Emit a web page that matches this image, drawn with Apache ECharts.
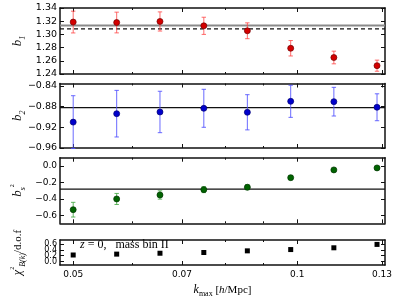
<!DOCTYPE html>
<html>
<head>
<meta charset="utf-8">
<script src="https://cdn.jsdelivr.net/npm/echarts@6/dist/echarts.min.js"></script>
<style>html,body{margin:0;padding:0;background:#fff}#c{width:399px;height:299px}</style>
</head>
<body>
<div id="c"></div>
<script>
// ---- data ----
const kValues = [0.05, 0.0572, 0.0654, 0.0749, 0.0857, 0.098, 0.112, 0.128];
const b1 = [1.3187, 1.318, 1.3196, 1.313, 1.3055, 1.279, 1.265, 1.2526];
const b1Err = [0.0165, 0.0157, 0.0145, 0.013, 0.012, 0.0117, 0.0096, 0.0084];
const b1RefSolid = 1.3135;
const b1RefDashed = 1.3085;
const b2 = [-0.910, -0.8937, -0.8904, -0.8833, -0.891, -0.8698, -0.8705, -0.8813];
const b2Err = [0.051, 0.045, 0.040, 0.0367, 0.034, 0.031, 0.0277, 0.026];
const b2Ref = -0.882;
const bs2 = [-0.53, -0.40, -0.352, -0.287, -0.258, -0.142, -0.048, -0.024];
const bs2Err = [0.089, 0.067, 0.05, 0.036, 0.03, 0.024, 0.018, 0.018];
const bs2Ref = -0.282;
const chi2 = [0.225, 0.255, 0.285, 0.31, 0.366, 0.41, 0.47, 0.585];
const xTickLabels = [0.05, 0.07, 0.1, 0.13];
const xMinorTicks = [0.06, 0.08, 0.09];
const b1Ticks = [1.24, 1.26, 1.28, 1.30, 1.32, 1.34];
const b2Ticks = [-0.96, -0.92, -0.88, -0.84];
const bs2Ticks = [-0.6, -0.4, -0.2, 0.0];
const chi2Ticks = [0.0, 0.2, 0.4, 0.6];
const chi2LabelsA = [0.0, 0.4];
const chi2LabelsB = [0.2, 0.6];

// ---- layout / style ----
const X_MIN = 0.048, X_MAX = 0.1312;
const FRAME = '#111';
const FW = 1.5;
const serif = 'Liberation Serif';
const sans = 'DejaVu Sans';

const panels = [
  { top: 8, height: 66, ymin: 1.24, ymax: 1.34, ticks: b1Ticks, labelSets: [b1Ticks], dec: 2, fs: 9.5,
    vals: b1, errs: b1Err, color: '#d40000', border: '#700000', errColor: 'rgba(255,70,70,0.8)',
    name: '{b|b}{s|1}', refs: [
      { value: b1RefSolid, color: '#8a8a8a', width: 2, type: 'solid' },
      { value: b1RefDashed, color: '#111', width: 1.2, type: [4, 3] }
    ] },
  { top: 83.5, height: 64.5, ymin: -0.96, ymax: -0.8354, ticks: b2Ticks, labelSets: [b2Ticks], dec: 2, fs: 9.5,
    vals: b2, errs: b2Err, color: '#0000cc', border: '#000070', errColor: 'rgba(80,80,255,0.85)',
    name: '{b|b}{s|2}', refs: [
      { value: b2Ref, color: '#111', width: 1.2, type: 'solid' }
    ] },
  { top: 157.7, height: 65.6, ymin: -0.695, ymax: 0.1, ticks: bs2Ticks, labelSets: [bs2Ticks], dec: 1, fs: 9,
    vals: bs2, errs: bs2Err, color: '#006400', border: '#003300', errColor: 'rgba(70,170,70,0.85)',
    name: '{b|b}{s|s}{p|2}', refs: [
      { value: bs2Ref, color: '#111', width: 1.2, type: 'solid' }
    ] },
  { top: 240, height: 28.3, ymin: -0.115, ymax: 0.735, ticks: chi2Ticks, labelSets: [chi2LabelsA, chi2LabelsB], dec: 1, fs: 8,
    vals: chi2, errs: null, color: '#000', border: '#000', errColor: null,
    name: '{c|χ}{p|2}{s|B(k)}{r|/d.o.f}', refs: [] }
];

const nameRich = {
  b: { fontFamily: serif, fontStyle: 'italic', fontSize: 13, lineHeight: 18, color: '#000' },
  c: { fontFamily: serif, fontStyle: 'italic', fontSize: 12, lineHeight: 18, color: '#000' },
  r: { fontFamily: serif, fontSize: 11, lineHeight: 18, color: '#000' },
  s: { fontFamily: serif, fontStyle: 'italic', fontSize: 8, verticalAlign: 'bottom', color: '#000' },
  p: { fontFamily: serif, fontSize: 6, verticalAlign: 'top', color: '#000' }
};

const lg = v => Math.log10(v);

function fmtY(dec) {
  return v => Number(v).toFixed(dec).replace('-', '\u2212');
}

function errRender(color) {
  return function (params, api) {
    const x = api.value(0), y = api.value(1), e = api.value(2);
    const t = api.coord([x, y + e]);
    const b = api.coord([x, y - e]);
    const cw = 2.2;
    const st = { stroke: color, lineWidth: 1 };
    return {
      type: 'group', children: [
        { type: 'line', shape: { x1: t[0], y1: t[1], x2: b[0], y2: b[1] }, style: st },
        { type: 'line', shape: { x1: t[0] - cw, y1: t[1], x2: t[0] + cw, y2: t[1] }, style: st },
        { type: 'line', shape: { x1: b[0] - cw, y1: b[1], x2: b[0] + cw, y2: b[1] }, style: st }
      ]
    };
  };
}

const grid = [], xAxis = [], yAxis = [], series = [];

panels.forEach((p, i) => {
  grid.push({ left: 60, right: 14, top: p.top, height: p.height, containLabel: false });
  const last = i === panels.length - 1;
  xAxis.push({
    type: 'log', gridIndex: i, position: 'bottom', min: X_MIN, max: X_MAX,
    axisLine: { show: true, onZero: false, lineStyle: { color: FRAME, width: FW } },
    axisTick: { show: false }, axisLabel: { show: false }, splitLine: { show: false }, minorTick: { show: false }
  });
  const tickAxis = (pos, vals, len, withLine, withLabel) => ({
    type: 'value', gridIndex: i, position: pos, min: lg(X_MIN), max: lg(X_MAX),
    axisLine: { show: withLine, onZero: false, lineStyle: { color: FRAME, width: FW } },
    axisTick: { show: true, inside: true, length: len, customValues: vals.map(lg), lineStyle: { color: FRAME, width: 1 } },
    axisLabel: withLabel ? {
      show: true, customValues: xTickLabels.map(lg), margin: 5, showMinLabel: true, showMaxLabel: true,
      fontFamily: sans, fontSize: 9, color: '#000',
      formatter: v => String(Math.round(Math.pow(10, v) * 100) / 100)
    } : { show: false },
    splitLine: { show: false },
    name: withLabel ? '{k|k}{m|max}{t| [}{h|h}{t|/Mpc]}' : '',
    nameLocation: 'middle', nameGap: 17,
    nameTextStyle: {
      rich: {
        k: { fontFamily: serif, fontStyle: 'italic', fontSize: 12, lineHeight: 16, color: '#000' },
        m: { fontFamily: serif, fontSize: 8, verticalAlign: 'bottom', color: '#000' },
        t: { fontFamily: serif, fontSize: 11, lineHeight: 16, color: '#000' },
        h: { fontFamily: serif, fontStyle: 'italic', fontSize: 11, lineHeight: 16, color: '#000' }
      }
    }
  });
  const xi = xAxis.length - 1;
  xAxis.push(tickAxis('bottom', xTickLabels, 4, false, last));
  xAxis.push(tickAxis('bottom', xMinorTicks, 2, false, false));
  xAxis.push(tickAxis('top', xTickLabels, 4, true, false));
  xAxis.push(tickAxis('top', xMinorTicks, 2, false, false));

  const labelCfg = set => ({
    show: true, customValues: set, margin: 3, fontFamily: sans, fontSize: p.fs,
    color: '#000', formatter: fmtY(p.dec), showMinLabel: true, showMaxLabel: true, hideOverlap: false
  });

  yAxis.push({
    type: 'value', gridIndex: i, position: 'left', min: p.ymin, max: p.ymax,
    axisLine: { show: true, onZero: false, lineStyle: { color: FRAME, width: FW } },
    axisTick: { show: true, inside: true, length: 4, customValues: p.ticks, lineStyle: { color: FRAME, width: 1 } },
    axisLabel: labelCfg(p.labelSets[0]),
    splitLine: { show: false },
    name: p.name, nameLocation: 'middle', nameRotate: 90, nameGap: 33, nameMoveOverlap: false,
    nameTextStyle: { rich: nameRich }
  });
  const yi = yAxis.length - 1;
  yAxis.push({
    type: 'value', gridIndex: i, position: 'right', min: p.ymin, max: p.ymax,
    axisLine: { show: true, onZero: false, lineStyle: { color: FRAME, width: FW } },
    axisTick: { show: true, inside: true, length: 4, customValues: p.ticks, lineStyle: { color: FRAME, width: 1 } },
    axisLabel: { show: false }, splitLine: { show: false }
  });
  // extra label-only axes (for tightly spaced labels)
  p.labelSets.slice(1).forEach(set => {
    yAxis.push({
      type: 'value', gridIndex: i, position: 'left', min: p.ymin, max: p.ymax,
      axisLine: { show: false, onZero: false }, axisTick: { show: false },
      axisLabel: labelCfg(set), splitLine: { show: false }
    });
  });

  p.refs.forEach(r => {
    series.push({
      type: 'line', xAxisIndex: xi, yAxisIndex: yi, z: 1, silent: true,
      symbol: 'none', showSymbol: false,
      lineStyle: { color: r.color, width: r.width, type: r.type },
      data: [[X_MIN, r.value], [X_MAX, r.value]]
    });
  });

  if (p.errs) {
    series.push({
      type: 'custom', xAxisIndex: xi, yAxisIndex: yi, z: 2, silent: true,
      renderItem: errRender(p.errColor),
      encode: { x: 0, y: 1 },
      data: kValues.map((k, j) => [k, p.vals[j], p.errs[j]])
    });
  }
  series.push({
    type: 'scatter', xAxisIndex: xi, yAxisIndex: yi, z: 3, silent: true,
    symbol: p.errs ? 'circle' : 'rect', symbolSize: p.errs ? 6 : 5,
    itemStyle: { color: p.color, borderColor: p.border, borderWidth: p.errs ? 0.7 : 0, opacity: 1 },
    data: kValues.map((k, j) => [k, p.vals[j]])
  });
});

const chart = echarts.init(document.getElementById('c'), null, { renderer: 'canvas' });
chart.setOption({
  animation: false,
  backgroundColor: '#fff',
  grid, xAxis, yAxis, series,
  graphic: [{
    type: 'text', left: 80, top: 239,
    style: {
      text: '{i|z}{n| = 0,   mass bin II}',
      rich: {
        i: { fontFamily: serif, fontStyle: 'italic', fontSize: 12, fill: '#000' },
        n: { fontFamily: serif, fontSize: 12, fill: '#000' }
      }
    }
  }]
});
</script>
</body>
</html>
